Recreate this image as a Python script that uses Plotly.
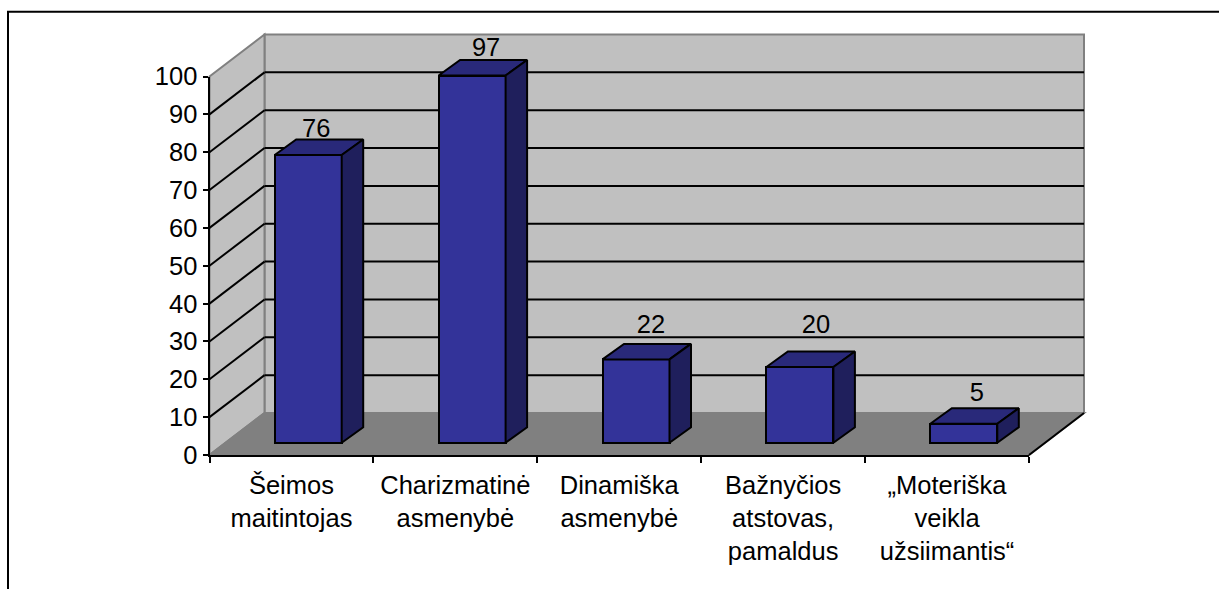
import plotly.graph_objects as go

# ---- data ----
categories = ["Šeimos<br>maitintojas", "Charizmatinė<br>asmenybė", "Dinamiška<br>asmenybė",
              "Bažnyčios<br>atstovas,<br>pamaldus", "„Moteriška<br>veikla<br>užsiimantis“"]
values = [76, 97, 22, 20, 5]
y_ticks = list(range(0, 101, 10))

# ---- pixel geometry of the pseudo-3D box ----
W, H = 1219, 589
PX_X0, PX_Y0 = 209.5, 455.0      # front origin
PX_PER_CAT = 163.9
PX_PER_VAL = 3.785
WALL_DX_PX, WALL_DY_PX = 55.0, 42.0
BAR_DX_PX, BAR_DY_PX = 21.5, 15.5
BAR_W_PX = 67.0
BAR_LEFT_PX = 65.2               # bar left edge from category start
BAR_BASE_PX = 12.3
LABEL_DX_PX = [8, 14, 15, 16, 13]
LABEL_DY_PX = [24, 26, 33, 40, 29]
PAD_L, PAD_R, PAD_T, PAD_B = 203.0, 1091.0, 29.0, 460.0

n = len(values)
DX = WALL_DX_PX / PX_PER_CAT
DY = WALL_DY_PX / PX_PER_VAL
bdx = BAR_DX_PX / PX_PER_CAT
bdy = BAR_DY_PX / PX_PER_VAL
bw = BAR_W_PX / PX_PER_CAT
base = BAR_BASE_PX / PX_PER_VAL
lefts = [i + BAR_LEFT_PX / PX_PER_CAT for i in range(n)]

FRONT, TOP, SIDE = "#333399", "#29297A", "#1F1F5C"
WALL, FLOOR, EDGE = "#C0C0C0", "#808080", "#808080"
FONT = "Liberation Sans, Arial, sans-serif"
FS = 25.5

xr = [(PAD_L - PX_X0) / PX_PER_CAT, (PAD_R - PX_X0) / PX_PER_CAT]
yr = [(PX_Y0 - PAD_B) / PX_PER_VAL, (PX_Y0 - PAD_T) / PX_PER_VAL]
pw, ph = PAD_R - PAD_L, PAD_B - PAD_T


def poly(pts, fill, line=None, width=2):
    path = "M" + "L".join(f"{x},{y}" for x, y in pts) + "Z"
    return dict(type="path", path=path, xref="x", yref="y", layer="below", fillcolor=fill,
                line=dict(color=line or fill, width=width))


def seg(x0, y0, x1, y1, color="black", width=2):
    return dict(type="line", x0=x0, y0=y0, x1=x1, y1=y1, xref="x", yref="y", layer="below",
                line=dict(color=color, width=width))


shapes = [
    poly([(DX, DY), (n + DX, DY), (n + DX, 100 + DY), (DX, 100 + DY)], WALL, EDGE),
    poly([(0, 0), (DX, DY), (DX, 100 + DY), (0, 100)], WALL, EDGE),
    poly([(0, 0), (n, 0), (n + DX, DY), (DX, DY)], FLOOR, FLOOR),
]
for v in y_ticks[1:-1]:
    shapes.append(seg(0, v, DX, v + DY))
    shapes.append(seg(DX, v + DY, n + DX, v + DY))
shapes.append(seg(n, 0, n + DX, DY))

# outer frame (open at right and bottom)
fx = (8 - PAD_L) / pw
fy_top = (PAD_B - 11.7) / ph
fy_bot = (PAD_B - H - 5) / ph
fx_r = (W + 5 - PAD_L) / pw
shapes.append(dict(type="path", xref="paper", yref="paper", layer="above",
                   path=f"M{fx},{fy_bot}L{fx},{fy_top}L{fx_r},{fy_top}",
                   line=dict(color="black", width=2)))

fig = go.Figure()
fig.add_trace(go.Bar(x=[l + bw / 2 for l in lefts], y=values, base=[base] * n, width=bw,
                     marker=dict(color=FRONT, line=dict(color="black", width=2)),
                     hoverinfo="skip", showlegend=False))
for l, v in zip(lefts, values):
    t = base + v
    fig.add_trace(go.Scatter(x=[l, l + bdx, l + bw + bdx, l + bw, l],
                             y=[t, t + bdy, t + bdy, t, t], mode="lines", fill="toself",
                             fillcolor=TOP, line=dict(color="black", width=2),
                             hoverinfo="skip", showlegend=False))
    r = l + bw
    fig.add_trace(go.Scatter(x=[r, r + bdx, r + bdx, r, r],
                             y=[t, t + bdy, base + bdy, base, t], mode="lines", fill="toself",
                             fillcolor=SIDE, line=dict(color="black", width=2),
                             hoverinfo="skip", showlegend=False))
fig.add_trace(go.Scatter(
    x=[l + bw / 2 + d / PX_PER_CAT for l, d in zip(lefts, LABEL_DX_PX)],
    y=[base + v + d / PX_PER_VAL for v, d in zip(values, LABEL_DY_PX)],
    mode="text", text=[str(v) for v in values], textposition="middle center",
    textfont=dict(family=FONT, size=FS, color="black"), cliponaxis=False,
    hoverinfo="skip", showlegend=False))

fig.update_layout(
    width=W, height=H, paper_bgcolor="white", plot_bgcolor="rgba(0,0,0,0)",
    margin=dict(l=PAD_L, r=W - PAD_R, t=PAD_T, b=H - PAD_B, pad=0, autoexpand=False),
    shapes=shapes, bargap=0, showlegend=False,
    font=dict(family=FONT, size=FS, color="black"),
    xaxis=dict(range=xr, visible=False, fixedrange=True),
    yaxis=dict(range=yr, visible=False, fixedrange=True),
    xaxis2=dict(domain=[(PX_X0 - PAD_L) / pw, (PX_X0 + n * PX_PER_CAT - PAD_L) / pw],
                range=[0, n], anchor="y2", showgrid=False, zeroline=False,
                showline=True, linecolor="black", linewidth=2,
                tickmode="array", tickvals=[i + 0.5 for i in range(n)], ticktext=categories,
                ticks="outside", ticklen=6, tickcolor="rgba(0,0,0,0)", tickangle=0,
                minor=dict(tickmode="array", tickvals=list(range(n + 1)), ticks="outside",
                           ticklen=6, tickwidth=2, tickcolor="black", showgrid=False),
                fixedrange=True),
    yaxis2=dict(domain=[(PAD_B - PX_Y0) / ph, (PAD_B - PX_Y0 + 100 * PX_PER_VAL) / ph],
                range=[0, 100], anchor="x2", showgrid=False, zeroline=False,
                showline=True, linecolor="black", linewidth=2,
                tickmode="array", tickvals=y_ticks, ticktext=[str(v) for v in y_ticks],
                ticks="outside", ticklen=5, tickwidth=2, tickcolor="black", fixedrange=True),
)
# invisible trace so the second axis pair exists
fig.add_trace(go.Scatter(x=[None], y=[None], xaxis="x2", yaxis="y2", mode="markers",
                         hoverinfo="skip", showlegend=False))

fig.write_html("out.html", config=dict(displayModeBar=False),
               post_script="document.body.style.margin='0';document.body.style.overflow='hidden';")
